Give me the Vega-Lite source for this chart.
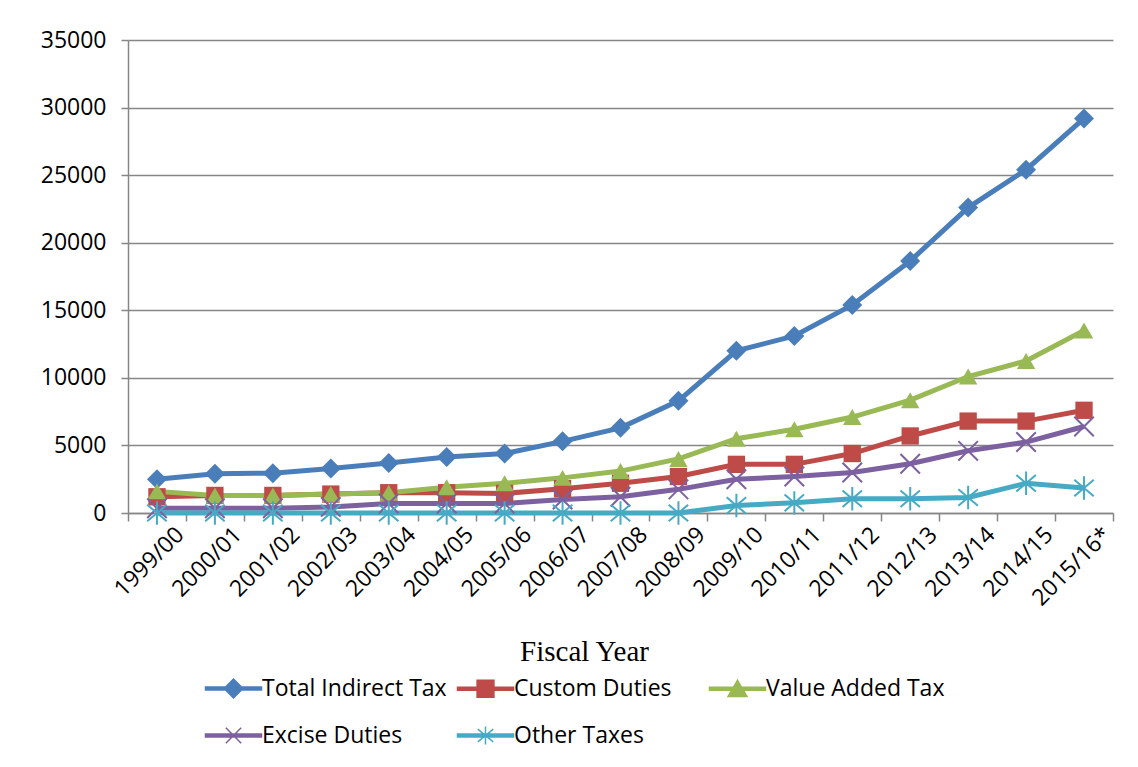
{
  "$schema": "https://vega.github.io/schema/vega-lite/v6.json",
  "autosize": "none",
  "width": 985,
  "height": 473,
  "padding": {"left": 128, "top": 40, "right": 25, "bottom": 254},
  "background": "white",
  "config": {
    "view": {"stroke": null},
    "font": "Open Sans",
    "axis": {"labelFont": "Open Sans", "labelFontSize": 23, "labelColor": "black", "domainColor": "#868686", "tickColor": "#868686", "gridColor": "#868686", "domainWidth": 1.5, "tickWidth": 1.5, "gridWidth": 1.5}
  },
  "data": {
    "values": [
      {"year": "1999/00", "series": "Total Indirect Tax", "value": 2500},
      {"year": "2000/01", "series": "Total Indirect Tax", "value": 2900},
      {"year": "2001/02", "series": "Total Indirect Tax", "value": 2950},
      {"year": "2002/03", "series": "Total Indirect Tax", "value": 3300},
      {"year": "2003/04", "series": "Total Indirect Tax", "value": 3700},
      {"year": "2004/05", "series": "Total Indirect Tax", "value": 4150},
      {"year": "2005/06", "series": "Total Indirect Tax", "value": 4400},
      {"year": "2006/07", "series": "Total Indirect Tax", "value": 5300},
      {"year": "2007/08", "series": "Total Indirect Tax", "value": 6300},
      {"year": "2008/09", "series": "Total Indirect Tax", "value": 8300},
      {"year": "2009/10", "series": "Total Indirect Tax", "value": 12000},
      {"year": "2010/11", "series": "Total Indirect Tax", "value": 13100},
      {"year": "2011/12", "series": "Total Indirect Tax", "value": 15400},
      {"year": "2012/13", "series": "Total Indirect Tax", "value": 18650},
      {"year": "2013/14", "series": "Total Indirect Tax", "value": 22600},
      {"year": "2014/15", "series": "Total Indirect Tax", "value": 25400},
      {"year": "2015/16*", "series": "Total Indirect Tax", "value": 29200},
      {"year": "1999/00", "series": "Custom Duties", "value": 1200},
      {"year": "2000/01", "series": "Custom Duties", "value": 1300},
      {"year": "2001/02", "series": "Custom Duties", "value": 1300},
      {"year": "2002/03", "series": "Custom Duties", "value": 1400},
      {"year": "2003/04", "series": "Custom Duties", "value": 1500},
      {"year": "2004/05", "series": "Custom Duties", "value": 1500},
      {"year": "2005/06", "series": "Custom Duties", "value": 1450},
      {"year": "2006/07", "series": "Custom Duties", "value": 1800},
      {"year": "2007/08", "series": "Custom Duties", "value": 2200},
      {"year": "2008/09", "series": "Custom Duties", "value": 2700},
      {"year": "2009/10", "series": "Custom Duties", "value": 3600},
      {"year": "2010/11", "series": "Custom Duties", "value": 3600},
      {"year": "2011/12", "series": "Custom Duties", "value": 4400},
      {"year": "2012/13", "series": "Custom Duties", "value": 5700},
      {"year": "2013/14", "series": "Custom Duties", "value": 6800},
      {"year": "2014/15", "series": "Custom Duties", "value": 6800},
      {"year": "2015/16*", "series": "Custom Duties", "value": 7600},
      {"year": "1999/00", "series": "Value Added Tax", "value": 1600},
      {"year": "2000/01", "series": "Value Added Tax", "value": 1300},
      {"year": "2001/02", "series": "Value Added Tax", "value": 1300},
      {"year": "2002/03", "series": "Value Added Tax", "value": 1400},
      {"year": "2003/04", "series": "Value Added Tax", "value": 1500},
      {"year": "2004/05", "series": "Value Added Tax", "value": 1900},
      {"year": "2005/06", "series": "Value Added Tax", "value": 2200},
      {"year": "2006/07", "series": "Value Added Tax", "value": 2600},
      {"year": "2007/08", "series": "Value Added Tax", "value": 3100},
      {"year": "2008/09", "series": "Value Added Tax", "value": 4000},
      {"year": "2009/10", "series": "Value Added Tax", "value": 5500},
      {"year": "2010/11", "series": "Value Added Tax", "value": 6200},
      {"year": "2011/12", "series": "Value Added Tax", "value": 7100},
      {"year": "2012/13", "series": "Value Added Tax", "value": 8350},
      {"year": "2013/14", "series": "Value Added Tax", "value": 10100},
      {"year": "2014/15", "series": "Value Added Tax", "value": 11250},
      {"year": "2015/16*", "series": "Value Added Tax", "value": 13500},
      {"year": "1999/00", "series": "Excise Duties", "value": 350},
      {"year": "2000/01", "series": "Excise Duties", "value": 350},
      {"year": "2001/02", "series": "Excise Duties", "value": 350},
      {"year": "2002/03", "series": "Excise Duties", "value": 450},
      {"year": "2003/04", "series": "Excise Duties", "value": 700},
      {"year": "2004/05", "series": "Excise Duties", "value": 700},
      {"year": "2005/06", "series": "Excise Duties", "value": 700},
      {"year": "2006/07", "series": "Excise Duties", "value": 1000},
      {"year": "2007/08", "series": "Excise Duties", "value": 1200},
      {"year": "2008/09", "series": "Excise Duties", "value": 1750},
      {"year": "2009/10", "series": "Excise Duties", "value": 2500},
      {"year": "2010/11", "series": "Excise Duties", "value": 2700},
      {"year": "2011/12", "series": "Excise Duties", "value": 3000},
      {"year": "2012/13", "series": "Excise Duties", "value": 3650},
      {"year": "2013/14", "series": "Excise Duties", "value": 4600},
      {"year": "2014/15", "series": "Excise Duties", "value": 5250},
      {"year": "2015/16*", "series": "Excise Duties", "value": 6400},
      {"year": "1999/00", "series": "Other Taxes", "value": 0},
      {"year": "2000/01", "series": "Other Taxes", "value": 0},
      {"year": "2001/02", "series": "Other Taxes", "value": 0},
      {"year": "2002/03", "series": "Other Taxes", "value": 0},
      {"year": "2003/04", "series": "Other Taxes", "value": 0},
      {"year": "2004/05", "series": "Other Taxes", "value": 0},
      {"year": "2005/06", "series": "Other Taxes", "value": 0},
      {"year": "2006/07", "series": "Other Taxes", "value": 0},
      {"year": "2007/08", "series": "Other Taxes", "value": 0},
      {"year": "2008/09", "series": "Other Taxes", "value": 0},
      {"year": "2009/10", "series": "Other Taxes", "value": 550},
      {"year": "2010/11", "series": "Other Taxes", "value": 750},
      {"year": "2011/12", "series": "Other Taxes", "value": 1050},
      {"year": "2012/13", "series": "Other Taxes", "value": 1050},
      {"year": "2013/14", "series": "Other Taxes", "value": 1150},
      {"year": "2014/15", "series": "Other Taxes", "value": 2200},
      {"year": "2015/16*", "series": "Other Taxes", "value": 1850}
    ]
  },
  "encoding": {
    "x": {
      "field": "year", "type": "nominal", "sort": null,
      "scale": {"type": "band", "paddingInner": 0, "paddingOuter": 0},
      "axis": {"title": "Fiscal Year", "titleFont": "Liberation Serif", "titleFontSize": 29, "titleFontWeight": "normal", "titleColor": "black", "titleX": 456, "titleY": 147, "titleAlign": "center", "titleBaseline": "alphabetic", "labelAngle": -45, "labelAlign": "right", "labelBaseline": "top", "labelOffset": 15, "labelPadding": 2, "tickSize": 8, "tickBand": "extent", "grid": false}
    },
    "y": {
      "field": "value", "type": "quantitative",
      "scale": {"domain": [0, 35000], "nice": false},
      "axis": {"title": null, "values": [0, 5000, 10000, 15000, 20000, 25000, 30000, 35000], "format": "d", "tickSize": 7, "labelPadding": 15, "grid": true}
    }
  },
  "layer": [
    {
      "mark": {"type": "line", "strokeWidth": 5},
      "encoding": {
        "color": {
          "field": "series", "type": "nominal",
          "scale": {"domain": ["Total Indirect Tax", "Custom Duties", "Value Added Tax", "Excise Duties", "Other Taxes"], "range": ["#4A7EBB", "#BE4B48", "#98B954", "#7D60A0", "#46AAC5"]},
          "legend": {
            "title": null, "orient": "none", "legendX": 94, "legendY": 637, "direction": "horizontal", "columns": 3, "gridAlign": "all",
            "labelFont": "Open Sans", "labelFontSize": 23, "labelColor": "black", "labelOffset": 17, "labelLimit": 400,
            "symbolSize": 196, "symbolStrokeWidth": 1.5, "columnPadding": 7, "rowPadding": 22,
            "encode": {
              "symbols": {
                "update": {
                  "shape": {"signal": "datum.value === 'Total Indirect Tax' ? 'M-4,-0.22H4V0.22H-4Z M0,-1.35L1.35,0L0,1.35L-1.35,0Z' : datum.value === 'Custom Duties' ? 'M-4,-0.22H4V0.22H-4Z M-1.2,-1.2H1.2V1.2H-1.2Z' : datum.value === 'Value Added Tax' ? 'M-4,-0.22H4V0.22H-4Z M0,-1.2L1.35,1.1L-1.35,1.1Z' : datum.value === 'Excise Duties' ? 'M-4,-0.22H4V0.22H-4Z M-1.1,-1.1L1.1,1.1M-1.1,1.1L1.1,-1.1' : 'M-4,-0.22H4V0.22H-4Z M-1.1,-0.9L1.1,0.9M-1.1,0.9L1.1,-0.9M0,-1.3V1.3'"},
                  "fill": {"scale": "color", "field": "value"},
                  "stroke": {"scale": "color", "field": "value"},
                  "strokeWidth": {"value": 1.5},
                  "opacity": {"value": 1}
                }
              }
            }
          }
        }
      }
    },
    {
      "transform": [{"filter": "datum.series === 'Total Indirect Tax'"}],
      "mark": {"type": "point", "shape": "diamond", "size": 400, "filled": true, "opacity": 1, "color": "#4A7EBB"}
    },
    {
      "transform": [{"filter": "datum.series === 'Custom Duties'"}],
      "mark": {"type": "point", "shape": "square", "size": 300, "filled": true, "opacity": 1, "color": "#BE4B48"}
    },
    {
      "transform": [{"filter": "datum.series === 'Value Added Tax'"}],
      "mark": {"type": "point", "shape": "triangle-up", "size": 340, "filled": true, "opacity": 1, "color": "#98B954"}
    },
    {
      "transform": [{"filter": "datum.series === 'Excise Duties'"}],
      "mark": {"type": "point", "shape": "M-1,-1L1,1M-1,1L1,-1", "size": 380, "filled": false, "opacity": 1, "strokeWidth": 2, "color": "#7D60A0"}
    },
    {
      "transform": [{"filter": "datum.series === 'Other Taxes'"}],
      "mark": {"type": "point", "shape": "M-1,-0.85L1,0.85M-1,0.85L1,-0.85M0,-1.2V1.2", "size": 380, "filled": false, "opacity": 1, "strokeWidth": 2, "color": "#46AAC5"}
    }
  ]
}
